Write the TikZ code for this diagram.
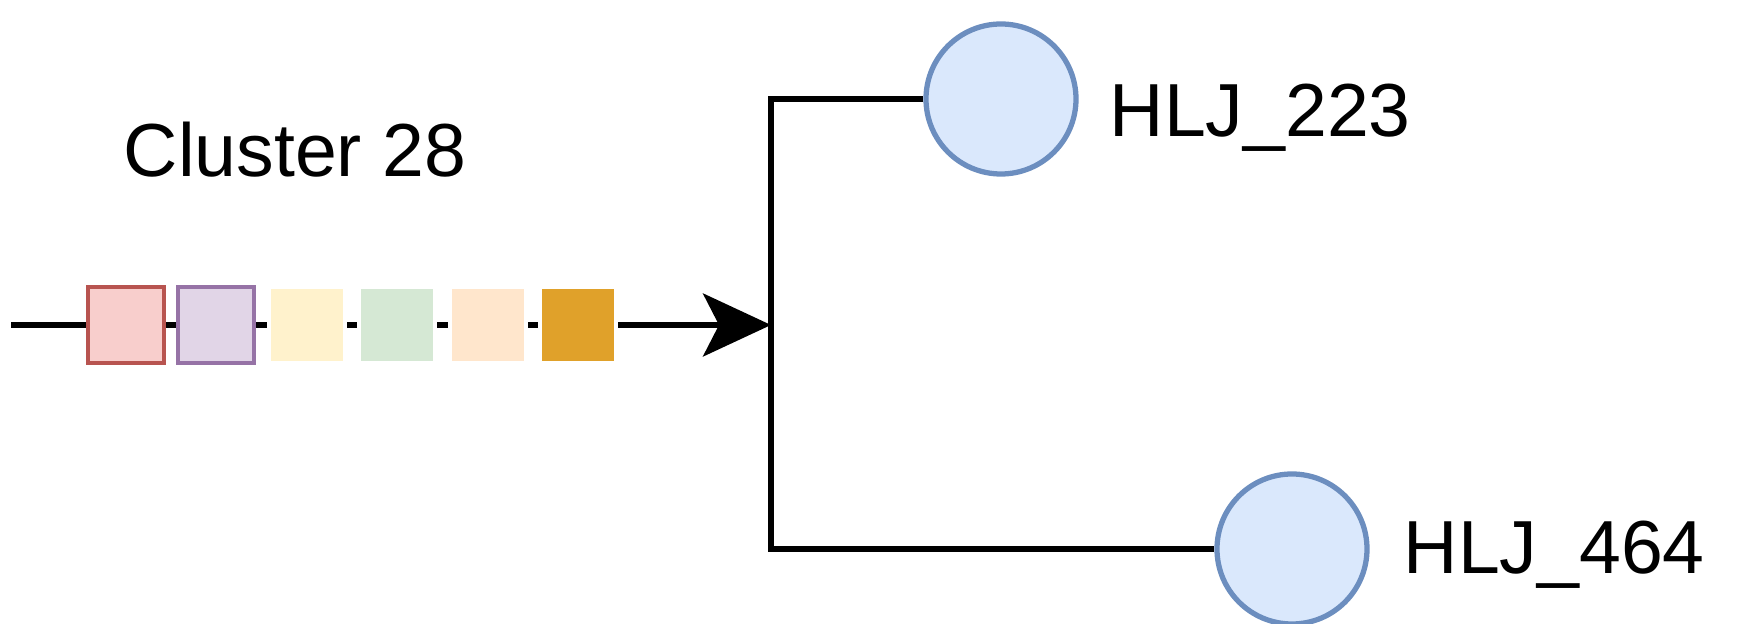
\documentclass[tikz,border=0pt]{standalone}
\usepackage{fontspec}
\setmainfont{Liberation Sans}
\usepackage{xcolor}
\usetikzlibrary{arrows.meta,positioning}
\definecolor{redline}{HTML}{B85450}
\definecolor{redfill}{HTML}{F8CECC}
\definecolor{purpleline}{HTML}{9673A6}
\definecolor{purplefill}{HTML}{E1D5E7}
\definecolor{yellowfill}{HTML}{FFF2CC}
\definecolor{greenfill}{HTML}{D5E8D4}
\definecolor{orangefill}{HTML}{FFE6CC}
\definecolor{goldfill}{HTML}{E0A12A}
\definecolor{leafline}{HTML}{6C8EBF}
\definecolor{leaffill}{HTML}{DAE8FC}
\tikzset{%
	gene/.style   = {rectangle, minimum size=0.76cm, inner sep=0pt, line width=1.4pt, draw=white},
	leaf/.style   = {circle, draw=leafline, fill=leaffill, minimum size=1.5cm, inner sep=0pt, line width=1.5pt},
	tag/.style    = {font=\fontsize{21.4}{25}\selectfont, inner sep=0pt},
	branch/.style = {line width=1.5pt},
	arrow/.style  = {line width=1.5pt, -{Stealth[length=6.8mm,width=6.3mm,inset=1.6mm]}},
}
\begin{document}
\begin{tikzpicture}
	\useasboundingbox (0,0) rectangle (17.57,6.24);
	\coordinate (start) at (0.11,2.99);
	\coordinate (split) at (7.71,2.99);
	\coordinate (top) at (7.71,5.25);
	\coordinate (bottom) at (7.71,0.75);
	
	\node[tag, anchor=base west] (title) at (1.23,4.47) {Cluster 28};
	
	\draw[arrow] (start) -- (split);  % gene order
	\node[gene, draw=redline, fill=redfill] (g1) at (1.26,2.99) {};
	\node[gene, draw=purpleline, fill=purplefill] (g2) at (2.16,2.99) {};
	\node[gene, fill=yellowfill] (g3) at (3.07,2.99) {};
	\node[gene, fill=greenfill] (g4) at (3.97,2.99) {};
	\node[gene, fill=orangefill] (g5) at (4.88,2.99) {};
	\node[gene, fill=goldfill] (g6) at (5.78,2.99) {};
	
	\node[leaf] (hlj223) at (10.01,5.25) {};
	\node[leaf] (hlj464) at (12.92,0.75) {};
	\draw[branch] (hlj223) -- (top) -- (bottom) -- (hlj464);
	\node[tag, anchor=base west] at (11.09,4.87) {HLJ\_223};
	\node[tag, anchor=base west] at (14.03,0.50) {HLJ\_464};
	
\end{tikzpicture}
\end{document}
